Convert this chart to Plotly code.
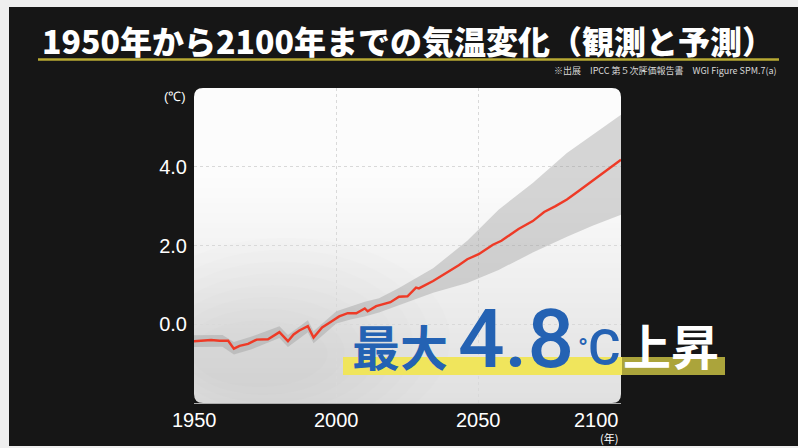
import plotly.graph_objects as go

# ---------------- data ----------------
years = [1950, 1953, 1956, 1959, 1962, 1964, 1966, 1969, 1972, 1976, 1980, 1983, 1985,
         1987, 1990, 1992, 1995, 1998, 2001, 2004, 2007, 2010, 2011, 2014, 2019, 2022,
         2025, 2028, 2029, 2034, 2039, 2043, 2046, 2050, 2055, 2058, 2060, 2064, 2069,
         2073, 2077, 2081, 2085, 2090, 2095, 2100]
mean_temp = [-0.43, -0.42, -0.40, -0.42, -0.42, -0.62, -0.55, -0.50, -0.39, -0.38, -0.20,
             -0.43, -0.26, -0.16, -0.05, -0.34, -0.08, 0.06, 0.20, 0.28, 0.28, 0.40, 0.33,
             0.46, 0.56, 0.70, 0.71, 0.93, 0.91, 1.10, 1.31, 1.50, 1.65, 1.78, 2.02, 2.12,
             2.22, 2.42, 2.62, 2.85, 3.00, 3.17, 3.38, 3.65, 3.92, 4.18]

band_years = [1950, 1960, 1964, 1970, 1980, 1983, 1990, 1992, 2000, 2005, 2010, 2015,
              2022, 2034, 2046, 2057, 2069, 2081, 2090, 2100]
band_upper = [-0.28, -0.27, -0.45, -0.32, -0.05, -0.27, 0.10, -0.18, 0.33, 0.45, 0.57,
              0.66, 0.92, 1.42, 2.12, 2.91, 3.59, 4.35, 4.80, 5.32]
band_lower = [-0.58, -0.57, -0.77, -0.64, -0.35, -0.58, -0.20, -0.48, 0.02, 0.12, 0.20,
              0.30, 0.48, 0.80, 1.05, 1.38, 1.82, 2.22, 2.50, 2.78]

y_ticks = [0, 2, 4]
y_tick_labels = ["0.0", "2.0", "4.0"]
x_ticks = [1950, 2000, 2050, 2100]
x_tick_labels = ["1950", "2000", "2050", "2100"]

title_text = "1950年から2100年までの気温変化（観測と予測）"
source_text = "※出展　IPCC 第５次評価報告書　WGI Figure SPM.7(a)"
callout_parts = ["最大", "4.8", "°", "C", "上昇"]

# ---------------- layout helpers (pixel -> paper) ----------------
W_IMG, H_IMG = 798, 448
L, R, T, B = 194, 621, 88, 403
PW, PH = R - L, B - T


def px(x):
    return (x - L) / PW


def py(y):
    return (B - y) / PH


DARK = "#161616"
BLUE = "#2462b3"

shapes = []
# dark board with thin light margin at top/left
shapes.append(dict(type="rect", xref="paper", yref="paper", x0=px(9), x1=px(W_IMG + 5),
                   y0=py(446), y1=py(7), fillcolor=DARK, line=dict(width=0), layer="below"))

# panel gradient (white top -> light grey bottom)
N = 63
for i in range(N):
    t0 = i / N
    t1 = (i + 1) / N
    tm = (t0 + t1) / 2
    if tm < 0.28:
        g = 252
    else:
        g = 252 - (tm - 0.28) / 0.72 * 28
    g = int(round(g))
    shapes.append(dict(type="rect", xref="paper", yref="paper", x0=0, x1=1,
                       y0=1 - t1 - 0.002, y1=1 - t0, fillcolor=f"rgb({g},{g},{g})",
                       line=dict(width=0), layer="below"))

# soft darker haze in lower-left (many faint layers)
haze = [(1925, 2040, -3.0, 2.2), (1930, 2033, -2.8, 1.9), (1934, 2027, -2.6, 1.6),
        (1937, 2021, -2.4, 1.3), (1940, 2015, -2.2, 1.0), (1943, 2009, -2.0, 0.7),
        (1946, 2003, -1.8, 0.4), (1949, 1997, -1.6, 0.1)]
for (a, b_, c, d) in haze:
    shapes.append(dict(type="circle", xref="x", yref="y", x0=a, x1=b_, y0=c, y1=d,
                       fillcolor="rgba(0,0,0,0.007)", line=dict(width=0), layer="below"))

# rounded corner masks
rx, ry = 9 / PW, 9 / PH
corners = [
    f"M 0,1 L {rx},1 Q 0,1 0,{1 - ry} Z",
    f"M 1,1 L {1 - rx},1 Q 1,1 1,{1 - ry} Z",
    f"M 0,0 L {rx},0 Q 0,0 0,{ry} Z",
    f"M 1,0 L {1 - rx},0 Q 1,0 1,{ry} Z",
]
for p in corners:
    shapes.append(dict(type="path", xref="paper", yref="paper", path=p, fillcolor=DARK,
                       line=dict(width=0), layer="below"))

# title underline
shapes.append(dict(type="line", xref="paper", yref="paper", x0=px(38), x1=px(779),
                   y0=py(59.5), y1=py(59.5), line=dict(color="#b8aa33", width=2.5), layer="above"))

# yellow highlight bar under callout
shapes.append(dict(type="rect", xref="paper", yref="paper", x0=px(343), x1=px(622),
                   y0=py(375), y1=py(357), fillcolor="#f0e55c", line=dict(width=0), layer="above"))
shapes.append(dict(type="rect", xref="paper", yref="paper", x0=px(622), x1=px(725),
                   y0=py(375), y1=py(357), fillcolor="#aba43b", line=dict(width=0), layer="above"))

fig = go.Figure()

fig.add_trace(go.Scatter(
    x=band_years + band_years[::-1],
    y=band_upper + band_lower[::-1],
    fill="toself", fillcolor="rgba(150,150,150,0.38)",
    line=dict(width=0), mode="lines", hoverinfo="skip", showlegend=False))

fig.add_trace(go.Scatter(
    x=years, y=mean_temp, mode="lines",
    line=dict(color="#ee3a26", width=2.4), showlegend=False))

annotations = []
SANS = "Liberation Sans"
CJK = "Noto Sans CJK JP"

annotations.append(dict(text=title_text, xref="paper", yref="paper", x=px(408), y=py(40),
                        xanchor="center", yanchor="middle", showarrow=False,
                        font=dict(family=CJK, size=32, color="white", weight=900)))
annotations.append(dict(text=source_text, xref="paper", yref="paper", x=px(779), y=py(71),
                        xanchor="right", yanchor="middle", showarrow=False,
                        font=dict(family=CJK, size=9, color="#d8d8d8")))
annotations.append(dict(text="(℃)", xref="paper", yref="paper", x=px(175), y=py(96),
                        xanchor="center", yanchor="middle", showarrow=False,
                        font=dict(family=SANS, size=13, color="white")))

for xv, lab in zip(x_ticks, x_tick_labels):
    anchor = "right" if xv == x_ticks[-1] else "center"
    annotations.append(dict(text=lab, xref="x", yref="paper", x=xv, y=py(420),
                            xanchor=anchor, yanchor="middle", showarrow=False,
                            font=dict(family=SANS, size=20, color="white")))
annotations.append(dict(text="(年)", xref="x", yref="paper", x=x_ticks[-1], y=py(437.5),
                        xanchor="right", yanchor="middle", showarrow=False, xshift=-1,
                        font=dict(family=CJK, size=11, color="white")))

# callout "最大4.8℃上昇"
annotations.append(dict(text=callout_parts[0], xref="paper", yref="paper", x=px(400), y=py(345),
                        xanchor="center", yanchor="middle", showarrow=False,
                        font=dict(family=CJK, size=48, color=BLUE, weight="bold")))
annotations.append(dict(text=callout_parts[1], xref="paper", yref="paper", x=px(516), y=py(339),
                        xanchor="center", yanchor="middle", showarrow=False,
                        font=dict(family="Roboto", size=82, color=BLUE, weight=500)))
annotations.append(dict(text=callout_parts[2], xref="paper", yref="paper", x=px(583), y=py(348),
                        xanchor="center", yanchor="middle", showarrow=False,
                        font=dict(family="Roboto", size=26, color=BLUE, weight="bold")))
annotations.append(dict(text=callout_parts[3], xref="paper", yref="paper", x=px(604), y=py(348),
                        xanchor="center", yanchor="middle", showarrow=False,
                        font=dict(family="Roboto", size=50, color=BLUE, weight=500)))
annotations.append(dict(text=callout_parts[4], xref="paper", yref="paper", x=px(671), y=py(344),
                        xanchor="center", yanchor="middle", showarrow=False,
                        font=dict(family=CJK, size=48, color="white", weight="bold")))

fig.update_layout(
    width=W_IMG, height=H_IMG,
    margin=dict(l=L, r=W_IMG - R, t=T, b=H_IMG - B, pad=0),
    paper_bgcolor="#efefef",
    plot_bgcolor="rgba(0,0,0,0)",
    shapes=shapes,
    annotations=annotations,
    showlegend=False,
    xaxis=dict(range=[1950, 2100], tickvals=[2000, 2050], showticklabels=False,
               showgrid=True, gridcolor="#d9d9d9", griddash="dot", gridwidth=1,
               zeroline=False, showline=False, ticks="", fixedrange=True),
    yaxis=dict(range=[-2, 6], tickvals=y_ticks, ticktext=y_tick_labels,
               showgrid=True, gridcolor="#d9d9d9", griddash="dot", gridwidth=1,
               zeroline=False, showline=False, ticks="", ticklabelstandoff=6,
               tickfont=dict(family=SANS, size=20, color="white"), fixedrange=True),
)

fig.write_html("out.html", config={"displayModeBar": False},
               post_script="document.body.style.margin='0px';document.body.style.overflow='hidden';")
